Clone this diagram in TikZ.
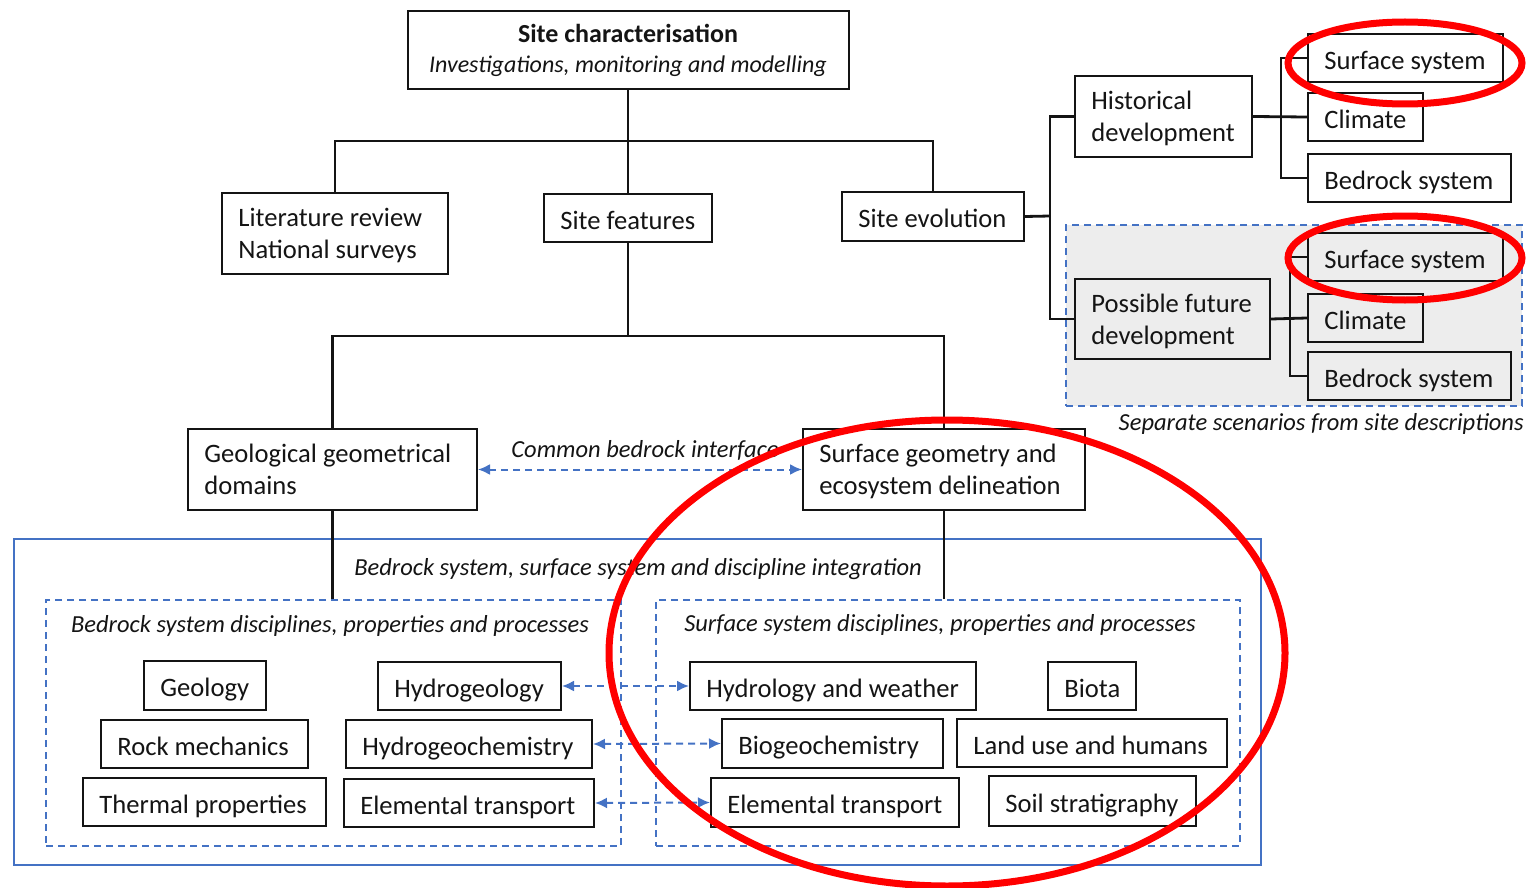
\documentclass[tikz,border=0pt]{standalone}
\usepackage{fontspec}
\setmainfont{Carlito}
\usetikzlibrary{fit,arrows.meta}
\definecolor{linkblue}{RGB}{68,114,196}
\definecolor{framegray}{RGB}{237,237,237}
\definecolor{inkblack}{RGB}{20,20,20}
\tikzset{
  box/.style={draw=inkblack, line width=1pt, inner sep=0pt},
  boxtext/.style={inner sep=0pt, align=left, text=inkblack, anchor=west, yshift=-2.5pt,
                  font=\fontsize{13.3}{16}\selectfont,
                  execute at begin node=\strut, execute at end node=\strut},
  conn/.style={draw=inkblack, line width=1.4pt},
  dashframe/.style={draw=linkblue, line width=1pt, dash pattern=on 3.5pt off 2.5pt},
  solidframe/.style={draw=linkblue, line width=1pt},
  twoway/.style={draw=linkblue, line width=1pt, dash pattern=on 3.5pt off 2.5pt,
                 {Latex[length=6pt,width=5.5pt]}-{Latex[length=6pt,width=5.5pt]}},
  caption/.style={inner sep=0pt, text=inkblack, font=\fontsize{12.25}{16}\selectfont\itshape},
  ring/.style={draw=red, line width=3.5pt},
}
% box with corners (x1,y1), (x2,y2) and its text set 16 units from the left edge
\newcommand\boxat[6]{%
  \node[box, minimum width={(#4-#2)*0.5pt}, minimum height={(#5-#3)*0.5pt}]
    (#1) at ({(#2+#4)/2},{(#3+#5)/2}) {};
  \node[boxtext] (#1-t) at ({#2+16},{(#3+#5)/2}) {#6};}
\begin{document}
\begin{tikzpicture}[x=0.5pt,y=-0.5pt]
\useasboundingbox (0,0) rectangle (1532,888);

% frames behind everything
\node[fit={(14,539) (1261,865)}, inner sep=0pt, solidframe] (integ) {};
\node[fit={(46,600) (621,846)}, inner sep=0pt, dashframe] (bdis) {};
\node[fit={(656,600) (1240,846)}, inner sep=0pt, dashframe] (sdis) {};
\node[fit={(1066,225) (1522,406)}, inner sep=0pt, dashframe, fill=framegray] (scen) {};

% captions of the frames
\node[caption] (cInteg) at (638,569) {Bedrock system, surface system and discipline integration};
\node[caption] (cBdis) at (330,626) {Bedrock system disciplines, properties and processes};
\node[caption] (cSdis) at (940,625) {Surface system disciplines, properties and processes};
\node[caption, anchor=east] (cScen) at (1524,424) {Separate scenarios from site descriptions};
\node[caption] (cCommon) at (645,450) {Common bedrock interface};

% main tree
\node[box, minimum width={441*0.5pt}, minimum height={78*0.5pt}, align=center,
      text=inkblack, font=\fontsize{12}{15}\selectfont] (top) at (628,50.5)
  {{\fontsize{13}{15}\selectfont\bfseries Site characterisation}\\\textit{Investigations, monitoring and modelling}};
\boxat{lit}{222}{193}{448}{274}{Literature review\\National surveys}
\boxat{feat}{544}{194}{712}{242}{Site features}
\boxat{evo}{842}{192}{1024}{241}{Site evolution}
\boxat{geo}{188}{429}{477}{510}{Geological geometrical\\domains}
\boxat{surf}{803}{429}{1085}{510}{Surface geometry and\\ecosystem delineation}

% site evolution branches
\boxat{hist}{1075}{76}{1252}{157}{Historical\\development}
\boxat{hs}{1308}{34}{1503}{82}{Surface system}
\boxat{hc}{1308}{93}{1423}{141}{Climate}
\boxat{hb}{1308}{154}{1511}{202}{Bedrock system}
\boxat{fut}{1075}{279}{1270}{359}{Possible future\\development}
\boxat{fs}{1308}{233}{1503}{281}{Surface system}
\boxat{fc}{1308}{294}{1423}{342}{Climate}
\boxat{fb}{1308}{352}{1511}{400}{Bedrock system}

% bedrock disciplines
\boxat{geol}{144}{661}{266}{710}{Geology}
\boxat{hgeo}{378}{662}{561}{710}{Hydrogeology}
\boxat{rock}{101}{720}{308}{768}{Rock mechanics}
\boxat{hgch}{346}{720}{592}{768}{Hydrogeochemistry}
\boxat{therm}{83}{778}{326}{826}{Thermal properties}
\boxat{elemB}{344}{779}{594}{827}{Elemental transport}

% surface disciplines
\boxat{hydw}{690}{662}{976}{710}{Hydrology and weather}
\boxat{biota}{1048}{662}{1136}{710}{Biota}
\boxat{biog}{722}{719}{943}{768}{Biogeochemistry}
\boxat{land}{957}{719}{1227}{767}{Land use and humans}
\boxat{elemS}{711}{778}{959}{827}{Elemental transport}
\boxat{soil}{989}{776}{1196}{826}{Soil stratigraphy}

% tree connectors
\coordinate (j1) at (628,141);
\coordinate (j2) at (628,336);
\coordinate (j3) at (1050,216);
\coordinate (j4) at (1281,117);
\coordinate (j5) at (1290,319);
\draw[conn] (top.south) -- (feat.north);
\draw[conn] (lit.north) -- (lit.north |- j1) -- (evo.north |- j1) -- (evo.north);
\draw[conn] (feat.south) -- (j2);
\draw[conn] (geo.north) -- (geo.north |- j2) -- (surf.north |- j2) -- (surf.north);
\draw[conn] (geo.south) -- (geo.south |- bdis.north);
\draw[conn] (surf.south) -- (surf.south |- sdis.north);

\draw[conn] (evo.east) -- (j3);
\draw[conn] (hist.west) -- (hist.west -| j3) -- (fut.west -| j3) -- (fut.west);
\draw[conn] (hist.east) -- (hc.west);
\draw[conn] (hs.west) -- (hs.west -| j4) -- (hb.west -| j4) -- (hb.west);
\draw[conn] (fut.east) -- (fc.west);
\draw[conn] (fs.west) -- (fs.west -| j5) -- (fb.west -| j5) -- (fb.west);

% exchanges between bedrock and surface descriptions
\draw[twoway] (geo.east) -- (surf.west);
\draw[twoway] (hgeo.east) -- (hydw.west);
\draw[twoway] (hgch.east) -- (biog.west);
\draw[twoway] (elemB.east) -- (elemS.west);

% red highlight rings
\draw[ring] (1405,63) ellipse [x radius=117, y radius=41];
\draw[ring] (1405,258) ellipse [x radius=117, y radius=42];
\draw[ring] (947,653) ellipse [x radius=338, y radius=233];
\end{tikzpicture}
\end{document}
